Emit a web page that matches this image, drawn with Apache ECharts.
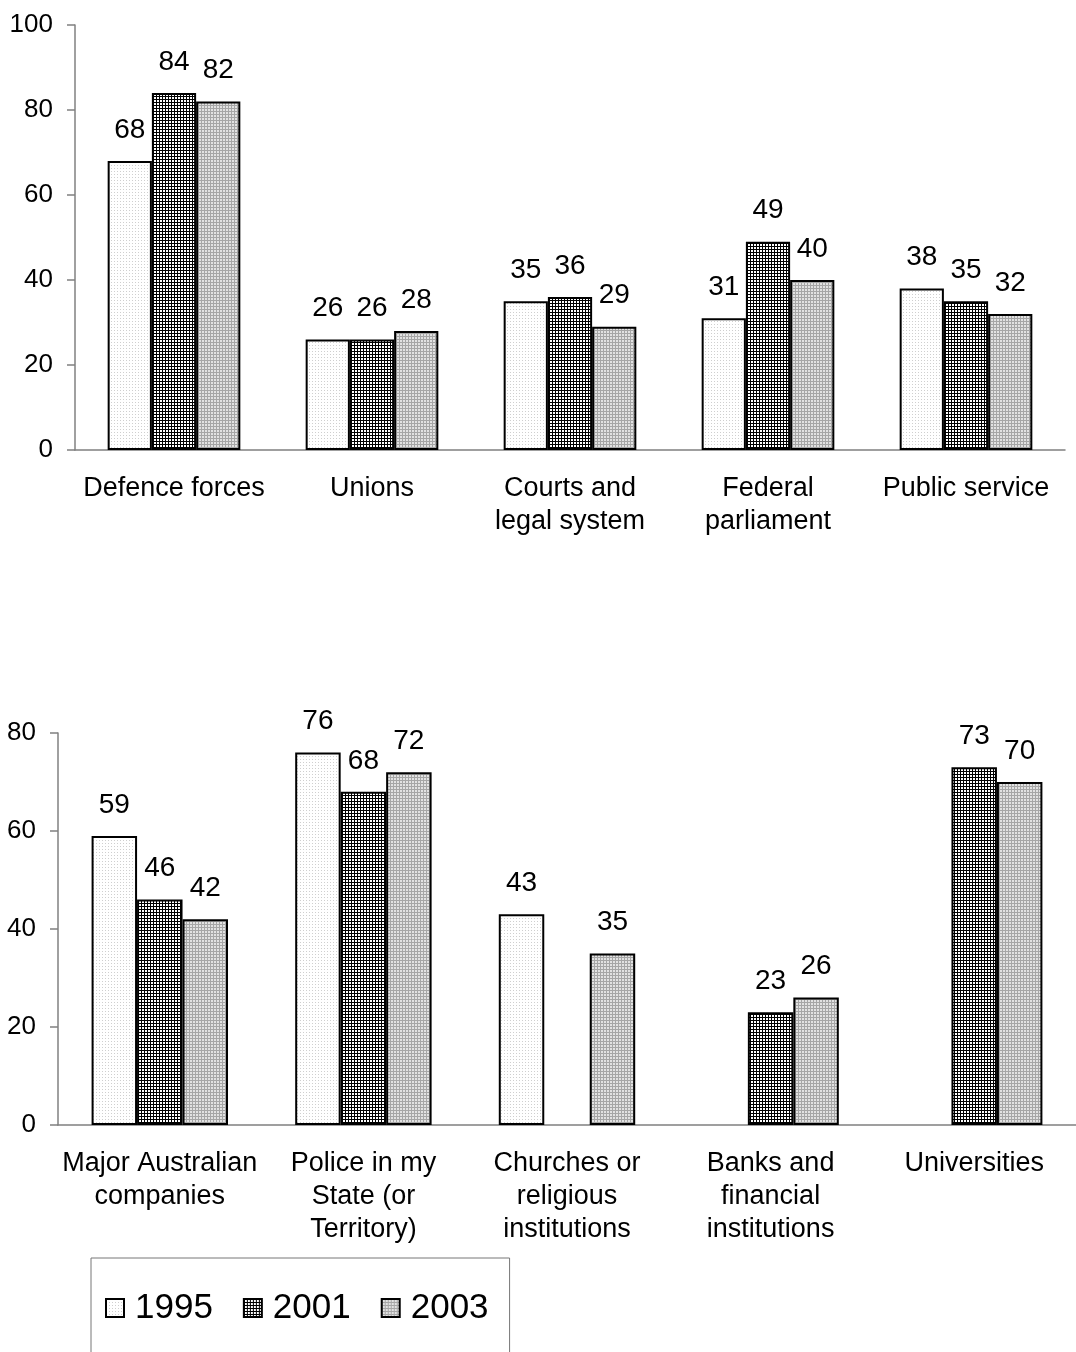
<!DOCTYPE html>
<html>
<head>
<meta charset="utf-8">
<script src="https://cdn.jsdelivr.net/npm/echarts@6/dist/echarts.min.js"></script>
<style>
html, body { margin: 0; padding: 0; background: #fff; }
#chart-container { width: 1076px; height: 1352px; }
</style>
</head>
<body>
<div id="chart-container"></div>
<script>
var years = ['1995', '2001', '2003'];

var topCategories = ['Defence forces', 'Unions', 'Courts and\nlegal system', 'Federal\nparliament', 'Public service'];
var top1995 = [68, 26, 35, 31, 38];
var top2001 = [84, 26, 36, 49, 35];
var top2003 = [82, 28, 29, 40, 32];

var bottomCategories = ['Major Australian\ncompanies', 'Police in my\nState (or\nTerritory)', 'Churches or\nreligious\ninstitutions', 'Banks and\nfinancial\ninstitutions', 'Universities'];
var bottom1995 = [59, 76, 43, null, null];
var bottom2001 = [46, 68, null, 23, 73];
var bottom2003 = [42, 72, 35, 26, 70];

// small tiled canvases to mimic the excel fill patterns
function makePattern(base, dot, kind) {
	var c = document.createElement('canvas');
	c.width = 3;
	c.height = 3;
	var ctx = c.getContext('2d');
	ctx.fillStyle = base;
	ctx.fillRect(0, 0, 3, 3);
	ctx.fillStyle = dot;
	if (kind == 'dot') {
		ctx.fillRect(0, 0, 1, 1);
	} else {
		ctx.fillRect(0, 0, 3, 1);
		ctx.fillRect(0, 0, 1, 3);
	}
	return { image: c, repeat: 'repeat' };
}

var fills = [
	makePattern('#ffffff', '#cfcfcf', 'dot'),
	makePattern('#ffffff', '#000000', 'grid'),
	makePattern('#e2e2e2', '#a6a6a6', 'grid')
];

var font = 'Liberation Sans, Arial, sans-serif';

function makeSeries(name, values, idx, axis) {
	return {
		name: name,
		type: 'bar',
		xAxisIndex: axis,
		yAxisIndex: axis,
		data: values,
		barGap: '0%',
		barCategoryGap: '33%',
		itemStyle: {
			color: fills[idx],
			borderColor: '#000',
			borderWidth: 2
		},
		label: {
			show: true,
			position: 'top',
			distance: 17,
			color: '#000',
			fontFamily: font,
			fontSize: 28
		},
		emphasis: { disabled: true }
	};
}

var dom = document.getElementById('chart-container');
var myChart = echarts.init(dom, null, { renderer: 'canvas' });

var axisLine = { lineStyle: { color: '#808080', width: 1.5 } };
var axisTick = { length: 8, lineStyle: { color: '#808080', width: 1.5 } };

var option = {
	animation: false,
	backgroundColor: '#fff',
	textStyle: { fontFamily: font },
	legend: {
		data: years,
		left: 91,
		top: 1258,
		orient: 'horizontal',
		icon: 'rect',
		itemWidth: 18,
		itemHeight: 18,
		itemGap: 30,
		padding: [30, 21, 60, 14],
		borderColor: '#777',
		borderWidth: 1,
		selectedMode: false,
		textStyle: { fontSize: 35, lineHeight: 40, color: '#000', fontFamily: font, padding: [0, 0, 0, 6] }
	},
	grid: [
		{ left: 75, top: 25, width: 990, height: 425 },
		{ left: 58, top: 733, width: 1020, height: 392 }
	],
	xAxis: [0, 1].map(function (i) {
		return {
			type: 'category',
			gridIndex: i,
			data: i == 0 ? topCategories : bottomCategories,
			axisLine: axisLine,
			axisTick: axisTick,
			axisLabel: {
				color: '#000',
				fontSize: 27,
				lineHeight: 33,
				margin: 22,
				fontFamily: font,
				interval: 0
			}
		};
	}),
	yAxis: [0, 1].map(function (i) {
		return {
			type: 'value',
			gridIndex: i,
			min: 0,
			max: i == 0 ? 100 : 80,
			interval: 20,
			splitLine: { show: false },
			axisLine: { show: true, lineStyle: axisLine.lineStyle },
			axisTick: { show: true, length: 8, lineStyle: axisTick.lineStyle },
			axisLabel: {
				color: '#000',
				fontSize: 26,
				margin: 22,
				fontFamily: font
			}
		};
	}),
	series: [
		makeSeries('1995', top1995, 0, 0),
		makeSeries('2001', top2001, 1, 0),
		makeSeries('2003', top2003, 2, 0),
		makeSeries('1995', bottom1995, 0, 1),
		makeSeries('2001', bottom2001, 1, 1),
		makeSeries('2003', bottom2003, 2, 1)
	]
};

myChart.setOption(option);
</script>
</body>
</html>
